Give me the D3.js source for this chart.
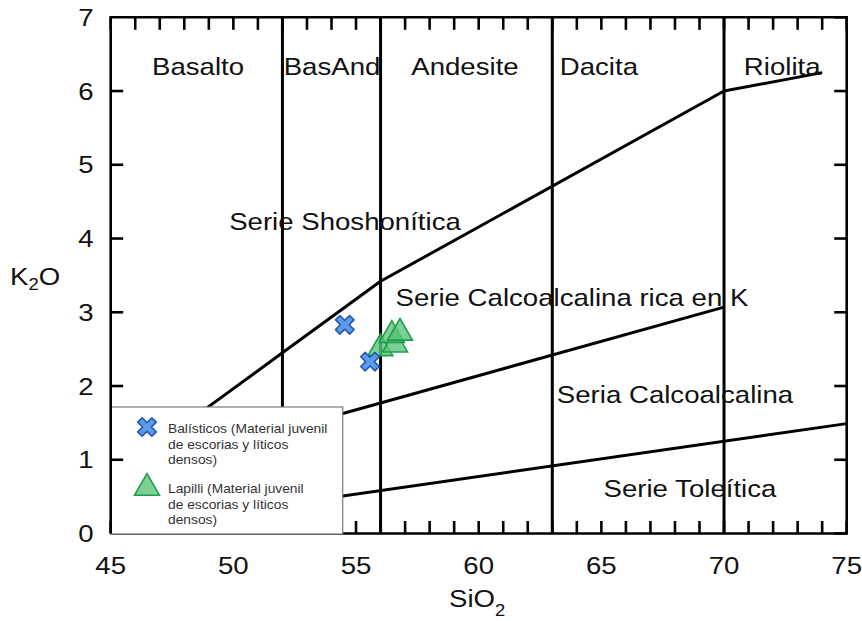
<!DOCTYPE html>
<html>
<head>
<meta charset="utf-8">
<script src="https://cdn.jsdelivr.net/npm/d3@7"></script>
<style>
  html, body { margin: 0; padding: 0; background: #ffffff; }
  svg text { font-family: "Liberation Sans", Arial, Helvetica, sans-serif; fill: #111; }
</style>
</head>
<body>
<svg id="chart" width="862" height="621"></svg>
<script>
// ---------------- data ----------------
const xTicks = d3.range(45, 76, 1);
const xLabelTicks = [45, 50, 55, 60, 65, 70, 75];
const yTicks = [0, 1, 2, 3, 4, 5, 6, 7];
const rockDivisions = [52, 56, 63, 70];

const rockNames = ["Basalto", "BasAnd", "Andesite", "Dacita", "Riolita"];
const rockNameX = [48.56, 54.02, 59.44, 64.9, 72.37];
const rockNameY = 6.22;

const seriesNames = ["Serie Shoshonítica", "Serie Calcoalcalina rica en K", "Seria Calcoalcalina", "Serie Toleítica"];
const seriesNameX = [54.55, 63.8, 68.0, 68.61];
const seriesNameY = [4.115, 3.09, 1.77, 0.495];

// boundary lines [SiO2, K2O]
const shoshoniticLine = [[48.0, 1.48], [52, 2.45], [56, 3.42], [70, 6.0], [74, 6.25]];
const highKLine = [[48.0, 1.03], [56, 1.77], [70, 3.07]];
const tholeiiticLine = [[48.0, 0.2], [75, 1.49]];

// samples [SiO2, K2O]
const balisticos = [[54.54, 2.83], [55.57, 2.33]];
const lapilli = [[55.99, 2.51], [56.59, 2.56], [56.46, 2.69], [56.79, 2.72]];

const legendLines = [
  ["Balísticos (Material juvenil", "de escorias y líticos", "densos)"],
  ["Lapilli (Material juvenil", "de escorias y líticos", "densos)"]
];

// ---------------- layout ----------------
const SX = 1.15; // horizontal stretch of the reference's lettering
const svg = d3.select("#chart");
const x = d3.scaleLinear().domain([45, 75]).range([110.7, 846.7]);
const y = d3.scaleLinear().domain([0, 7]).range([533.5, 17.3]);
const TICK = 12.5;
const TW = 2.6;

svg.append("rect").attr("width", 862).attr("height", 621).attr("fill", "#ffffff");

function txt(g, s, px, py, size, anchor) {
  return g.append("text")
    .attr("transform", `translate(${px},${py}) scale(${SX},1)`)
    .attr("text-anchor", anchor)
    .style("font-size", size + "px")
    .text(s);
}

const line = d3.line().x(d => x(d[0])).y(d => y(d[1]));

// frame (top, right, bottom)
svg.append("path")
  .attr("d", `M${x(45)},${y(7)}H${x(75)}V${y(0)}H${x(45)}`)
  .attr("fill", "none").attr("stroke", "#000").attr("stroke-width", 2.6);

// bottom tick labels
xLabelTicks.forEach(v => txt(svg, String(v), x(v), y(0) + 40, 24, "middle"));

// boundary lines
[shoshoniticLine, highKLine, tholeiiticLine].forEach(pts => {
  svg.append("path").attr("d", line(pts))
    .attr("fill", "none").attr("stroke", "#000").attr("stroke-width", 3).attr("stroke-linejoin", "round");
});
rockDivisions.forEach(v => {
  svg.append("line")
    .attr("x1", x(v)).attr("x2", x(v)).attr("y1", y(0)).attr("y2", y(7))
    .attr("stroke", "#000").attr("stroke-width", 3);
});

// labels
const gl = svg.append("g");
rockNames.forEach((n, i) => txt(gl, n, x(rockNameX[i]), y(rockNameY), 24, "middle"));
seriesNames.forEach((n, i) => txt(gl, n, x(seriesNameX[i]), y(seriesNameY[i]), 24, "middle"));

// inward ticks (top, right, bottom)
const tickLines = [];
xTicks.forEach(v => {
  tickLines.push([x(v), y(7), x(v), y(7) + TICK]);
  tickLines.push([x(v), y(0), x(v), y(0) - TICK]);
});
yTicks.forEach(v => tickLines.push([x(75), y(v), x(75) - TICK, y(v)]));
svg.append("g").selectAll("line").data(tickLines).join("line")
  .attr("x1", d => d[0]).attr("y1", d => d[1]).attr("x2", d => d[2]).attr("y2", d => d[3])
  .attr("stroke", "#000").attr("stroke-width", TW);

// markers
const crossPath = (() => {
  const a = 10, w = 3.1;
  const p = [[-w,-a],[w,-a],[w,-w],[a,-w],[a,w],[w,w],[w,a],[-w,a],[-w,w],[-a,w],[-a,-w],[-w,-w]];
  const r = Math.SQRT1_2;
  return "M" + p.map(([u, v]) => [(u - v) * r, (u + v) * r].map(c => c.toFixed(2)).join(",")).join("L") + "Z";
})();
const triPath = d3.symbol().type(d3.symbolTriangle).size(270)();
function drawCross(g, px, py) {
  g.append("path").attr("d", crossPath).attr("transform", `translate(${px},${py})`)
    .attr("fill", "#5b9be8").attr("stroke", "#2458b0").attr("stroke-width", 1.6).attr("stroke-linejoin", "round");
}
function drawTri(g, px, py) {
  g.append("path").attr("d", triPath).attr("transform", `translate(${px},${py})`)
    .attr("fill", "#5cc47c").attr("fill-opacity", 0.8)
    .attr("stroke", "#1f9e48").attr("stroke-width", 1.6);
}
const gm = svg.append("g");
lapilli.forEach(d => drawTri(gm, x(d[0]), y(d[1])));
balisticos.forEach(d => drawCross(gm, x(d[0]), y(d[1])));

// legend
const lg = svg.append("g");
lg.append("rect").attr("x", x(45)).attr("y", 407).attr("width", 232).attr("height", y(0) - 407 + 0.5)
  .attr("fill", "#ffffff").attr("stroke", "#7a7a7a").attr("stroke-width", 1.2);
drawCross(lg, 147, 427);
drawTri(lg, 147, 488);
legendLines.forEach((lines, k) => {
  const base = k === 0 ? 433 : 493;
  lines.forEach((s, j) => txt(lg, s, 168, base + j * 15.5, 12, "start").style("fill", "#333"));
});

// left axis (drawn over the legend)
svg.append("line").attr("x1", x(45)).attr("x2", x(45)).attr("y1", y(7) - 1.3).attr("y2", y(0))
  .attr("stroke", "#000").attr("stroke-width", 2.6);
svg.append("g").selectAll("line").data(yTicks.filter(v => v > 0 && v < 7)).join("line")
  .attr("x1", x(45)).attr("x2", x(45) + TICK).attr("y1", d => y(d)).attr("y2", d => y(d))
  .attr("stroke", "#000").attr("stroke-width", TW);
yTicks.forEach(v => txt(svg, d3.format("d")(v), x(45) - 17, y(v) + 8.5, 24, "end"));

// axis titles
const k2o = svg.append("text").attr("transform", `translate(10,285) scale(${SX},1)`).style("font-size", "24px");
k2o.append("tspan").text("K");
k2o.append("tspan").attr("dy", 5).style("font-size", "16px").text("2");
k2o.append("tspan").attr("dy", -5).text("O");
const sio2 = svg.append("text").attr("transform", `translate(449,607) scale(${SX},1)`).style("font-size", "24px");
sio2.append("tspan").text("SiO");
sio2.append("tspan").attr("dy", 9).style("font-size", "16px").text("2");
</script>
</body>
</html>
